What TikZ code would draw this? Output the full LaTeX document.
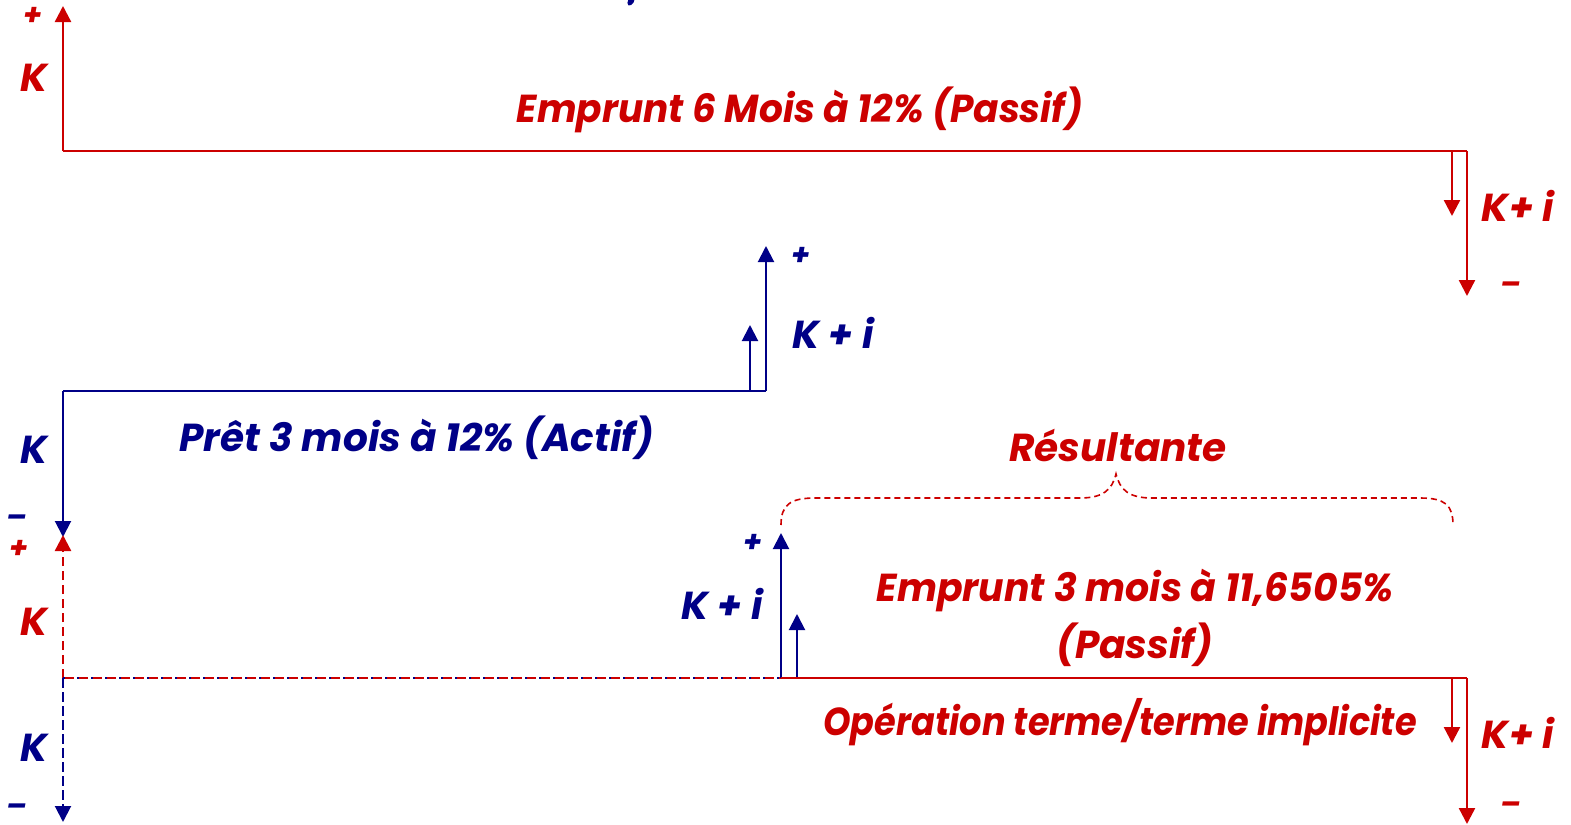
\documentclass[tikz,border=0pt]{standalone}
\usepackage{fontspec}
\setmainfont{Poppins}
\usetikzlibrary{arrows.meta}
\definecolor{myred}{RGB}{204,0,0}
\definecolor{myblue}{RGB}{0,0,135}
\begin{document}
\begin{tikzpicture}[x=0.5pt,y=-0.5pt,
  rl/.style={draw=myred, line width=1.2pt},
  bl/.style={draw=myblue, line width=1pt},
  tip/.style={-{Triangle[width=8pt,length=8pt]}},
  lab/.style={font=\fontsize{19.5}{23}\selectfont\bfseries\itshape, inner sep=0pt},
  sgn/.style={font=\fontsize{15}{17}\selectfont\bfseries\itshape, inner sep=0pt},
  rdash/.style={dash pattern=on 4.5pt off 2.5pt},
]
\useasboundingbox (0,0) rectangle (1571,825);
% ---------- top: emprunt 6 mois
\coordinate (a0) at (63,151);
\coordinate (a1) at (63,6);
\coordinate (a2) at (1467,151);
\coordinate (a3) at (1467,296);
\coordinate (a4) at (1452,151);
\coordinate (a5) at (1452,216);
\draw[rl,tip] (a0) -- (a1);
\draw[rl] (a0) -- (a2);
\draw[rl,tip] (a2) -- (a3);
\draw[rl,tip] (a4) -- (a5);
\node[sgn,text=myred] (tp) at (33,16) {+};
\node[lab,text=myred] (tk) at (34,78) {K};
\node[lab,text=myred] (tt) at (800,110) {\scalebox{0.96}[1]{Emprunt 6 Mois à 12\% (Passif)}};
\node[lab,text=myred] (tki) at (1518,206) {K+ i};
\node[sgn,text=myred] (tm) at (1511,288) {–};
% ---------- middle: pret 3 mois
\coordinate (b0) at (63,391);
\coordinate (b1) at (766,391);
\coordinate (b2) at (766,246);
\coordinate (b3) at (750,391);
\coordinate (b4) at (750,325);
\coordinate (b5) at (63,537);
\draw[bl] (b0) -- (b1);
\draw[bl,tip] (b1) -- (b2);
\draw[bl,tip] (b3) -- (b4);
\draw[bl,tip] (b0) -- (b5);
\node[sgn,text=myblue] (mp) at (801,256) {+};
\node[lab,text=myblue] (mki) at (833,333) {K + i};
\node[lab,text=myblue] (mk) at (34,450) {K};
\node[sgn,text=myblue] (mm) at (17,521) {–};
\node[lab,text=myblue] (mt) at (417,438) {Prêt 3 mois à 12\% (Actif)};
% ---------- bottom: resultante
\coordinate (c0) at (63,678);
\coordinate (c1) at (63,535);
\coordinate (c2) at (63,822);
\coordinate (c3) at (781,678);
\coordinate (c4) at (781,533);
\coordinate (c5) at (797,678);
\coordinate (c6) at (797,614);
\coordinate (c7) at (1467,678);
\coordinate (c8) at (1467,824);
\coordinate (c9) at (1452,678);
\coordinate (c10) at (1452,743);
\draw[rl,tip,rdash] (c0) -- (c1);
\draw[bl,tip,dash pattern=on 5pt off 2pt] (c0) -- (c2);
\draw[myblue,line width=1.2pt,dash pattern=on 1pt off 6pt] (c0) -- (c3);
\draw[myred,line width=1.2pt,dash pattern=on 4.5pt off 2.5pt,dash phase=-1pt] (c0) -- (c3);
\draw[bl,tip] (c3) -- (c4);
\draw[bl,tip] (c5) -- (c6);
\draw[rl] (c3) -- (c7);
\draw[rl,tip] (c7) -- (c8);
\draw[rl,tip] (c9) -- (c10);
\node[sgn,text=myred] (bp) at (19,549) {+};
\node[lab,text=myred] (bk) at (34,622) {K};
\node[lab,text=myblue] (bkb) at (34,748) {K};
\node[sgn,text=myblue] (bm) at (17,810) {–};
\node[sgn,text=myblue] (bpp) at (753,543) {+};
\node[lab,text=myblue] (bki) at (722,604) {K + i};
\node[lab,text=myred] (be1) at (1135,590) {\scalebox{0.97}[1]{Emprunt 3 mois à 11,6505\%}};
\node[lab,text=myred] (be2) at (1135,645) {(Passif)};
\node[lab,text=myred] (bop) at (1120,722) {\scalebox{0.9}[1]{Opération terme/terme implicite}};
\node[lab,text=myred] (bki2) at (1518,733) {K+ i};
\node[sgn,text=myred] (bm2) at (1511,808) {–};
% brace
\coordinate (d0) at (781,525);
\coordinate (d1) at (1116,474);
\coordinate (d2) at (1453,525);
\draw[myred,line width=0.8pt,dash pattern=on 3pt off 2pt]
  (d0) .. controls (781,505) and (790,498) .. (815,498) -- (1080,498)
  .. controls (1103,498) and (1112,490) .. (d1)
  .. controls (1120,490) and (1129,498) .. (1152,498) -- (1420,498)
  .. controls (1445,498) and (1453,505) .. (d2);
\node[lab,text=myred] (res) at (1118,445) {Résultante};
% cut glyph at top
\fill[myblue,rotate around={60:(631,1)}] (631,1) ellipse (5 and 3);
\end{tikzpicture}
\end{document}
